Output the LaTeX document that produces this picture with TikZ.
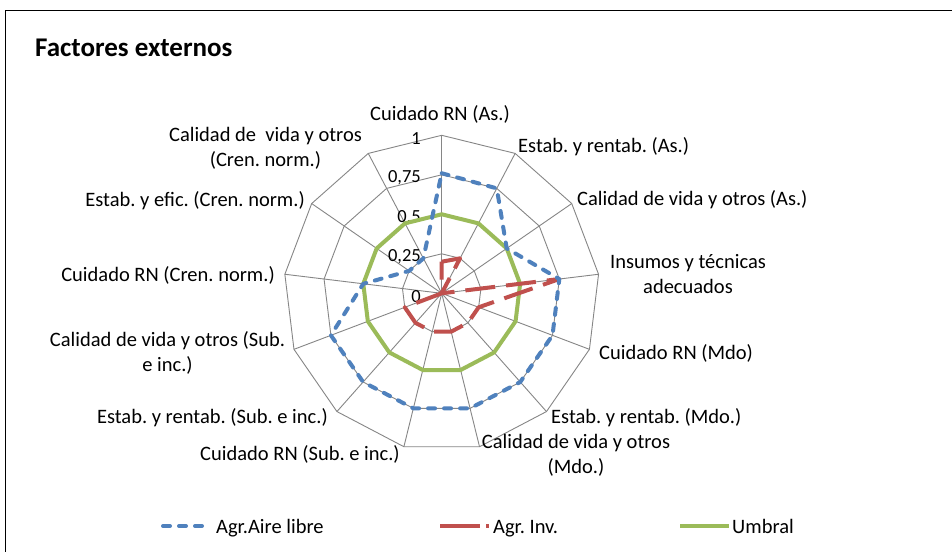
\documentclass[tikz,border=0pt]{standalone}
\usepackage{fontspec}
\setmainfont{Carlito}
\usetikzlibrary{calc}
\definecolor{serA}{HTML}{4F81BD}
\definecolor{serB}{HTML}{C0504D}
\definecolor{serC}{HTML}{9BBB59}
\definecolor{gridc}{HTML}{868686}
\tikzset{
  gridline/.style={draw=gridc, line width=0.9pt},
  serblue/.style={draw=serA, line width=4pt, line cap=round, line join=round, dash pattern=on 7pt off 9pt},
  serred/.style={draw=serB, line width=4pt, line cap=butt, line join=round, dash pattern=on 30pt off 11pt},
  sergreen/.style={draw=serC, line width=4pt, line join=round},
  axlab/.style={inner sep=0pt, font=\fontsize{20.5}{25}\selectfont, align=center},
  ticklab/.style={inner sep=0pt, anchor=east, font=\fontsize{18.5}{22}\selectfont},
  leglab/.style={inner sep=0pt, anchor=base west, font=\fontsize{20.5}{25}\selectfont}
}
\begin{document}
\frenchspacing
\begin{tikzpicture}[x=1pt,y=-1pt]
\useasboundingbox (0,0) rectangle (952,551);
\fill[white] (0,0) rectangle (952,551);
\begin{scope}
  \clip (0,0) rectangle (952,551);
  \draw[line width=1.6pt] (5.5,10.5) rectangle (980,580);
\end{scope}
% title
\node[inner sep=0pt, anchor=west, font=\fontsize{27}{32}\selectfont\bfseries] (title) at (35,48) {Factores externos};
% radar geometry
\coordinate (C) at (441.7,293.3);
\foreach \k in {0,...,12} {
  \coordinate (a\k) at ($(C)+({\k*360/13-90}:158)$);
}
% grid rings
\foreach \v in {0.25,0.5,0.75,1} {
  \draw[gridline] ($(C)!\v!(a0)$) -- ($(C)!\v!(a1)$) -- ($(C)!\v!(a2)$) -- ($(C)!\v!(a3)$) -- ($(C)!\v!(a4)$) -- ($(C)!\v!(a5)$) -- ($(C)!\v!(a6)$) -- ($(C)!\v!(a7)$) -- ($(C)!\v!(a8)$) -- ($(C)!\v!(a9)$) -- ($(C)!\v!(a10)$) -- ($(C)!\v!(a11)$) -- ($(C)!\v!(a12)$) -- cycle;
}
\foreach \k in {0,...,12} { \draw[gridline] (C) -- (a\k); }
% tick labels
\node[ticklab] (t0) at (421,296.3) {0};
\node[ticklab] (t1) at (421,256.8) {0,25};
\node[ticklab] (t2) at (421,217.3) {0,5};
\node[ticklab] (t3) at (421,177.8) {0,75};
\node[ticklab] (t4) at (421,138.3) {1};
% series: Umbral
\draw[sergreen] ($(C)!0.5!(a0)$) -- ($(C)!0.5!(a1)$) -- ($(C)!0.5!(a2)$) -- ($(C)!0.5!(a3)$) -- ($(C)!0.5!(a4)$) -- ($(C)!0.5!(a5)$) -- ($(C)!0.5!(a6)$) -- ($(C)!0.5!(a7)$) -- ($(C)!0.5!(a8)$) -- ($(C)!0.5!(a9)$) -- ($(C)!0.5!(a10)$) -- ($(C)!0.5!(a11)$) -- ($(C)!0.5!(a12)$) -- cycle;
% series: Agr. Inv.
\draw[serred] ($(C)!0.2!(a0)$) -- ($(C)!0.25!(a1)$) -- (C) -- ($(C)!0.75!(a3)$) -- ($(C)!0.25!(a4)$) -- ($(C)!0.25!(a5)$) -- ($(C)!0.25!(a6)$) -- ($(C)!0.25!(a7)$) -- ($(C)!0.25!(a8)$) -- ($(C)!0.25!(a9)$) -- (C) -- cycle;
% series: Agr. Aire libre
\draw[serblue] ($(C)!0.76!(a0)$) -- ($(C)!0.75!(a1)$) -- ($(C)!0.5!(a2)$) -- ($(C)!0.75!(a3)$) -- ($(C)!0.75!(a4)$) -- ($(C)!0.75!(a5)$) -- ($(C)!0.75!(a6)$) -- ($(C)!0.75!(a7)$) -- ($(C)!0.75!(a8)$) -- ($(C)!0.75!(a9)$) -- ($(C)!0.5!(a10)$) -- ($(C)!0.25!(a11)$) -- ($(C)!0.25!(a12)$) -- cycle;
% axis labels
\node[axlab] (l0) at (440,114) {Cuidado RN (As.)};
\node[axlab, anchor=west] (l1) at (518,147) {Estab. y rentab. (As.)};
\node[axlab, anchor=west] (l2) at (577,200) {Calidad de vida y otros (As.)};
\node[axlab] (l3) at (688,274) {Insumos y técnicas\\adecuados};
\node[axlab, anchor=west] (l4) at (599,353) {Cuidado RN (Mdo)};
\node[axlab, anchor=west] (l5) at (551,418) {Estab. y rentab. (Mdo.)};
\node[axlab] (l6) at (576,455.5) {Calidad de vida y otros\\(Mdo.)};
\node[axlab, anchor=east] (l7) at (400,454) {Cuidado RN (Sub. e inc.)};
\node[axlab, anchor=east] (l8) at (328,418) {Estab. y rentab. (Sub. e inc.)};
\node[axlab] (l9) at (167.5,353) {Calidad de vida y otros (Sub.\\e inc.)};
\node[axlab, anchor=east] (l10) at (275,275) {Cuidado RN (Cren. norm.)};
\node[axlab, anchor=east] (l11) at (305,201) {Estab. y efic. (Cren. norm.)};
\node[axlab] (l12) at (265.5,148) {Calidad de~ vida y otros\\(Cren. norm.)};
% legend
\coordinate (lb1) at (163,526); \coordinate (lb2) at (209,526);
\coordinate (lr1) at (440,526); \coordinate (lr2) at (490,526);
\coordinate (lg1) at (680,526); \coordinate (lg2) at (729,526);
\draw[serblue] (lb1) -- (lb2);
\draw[serred, dash pattern=on 40pt off 6pt on 3pt off 6pt] (lr1) -- (lr2);
\draw[sergreen] (lg1) -- (lg2);
\node[leglab] (g1) at (216,533) {Agr.Aire libre};
\node[leglab] (g2) at (493,533) {Agr. Inv.};
\node[leglab] (g3) at (732,533) {Umbral};
\end{tikzpicture}
\end{document}
